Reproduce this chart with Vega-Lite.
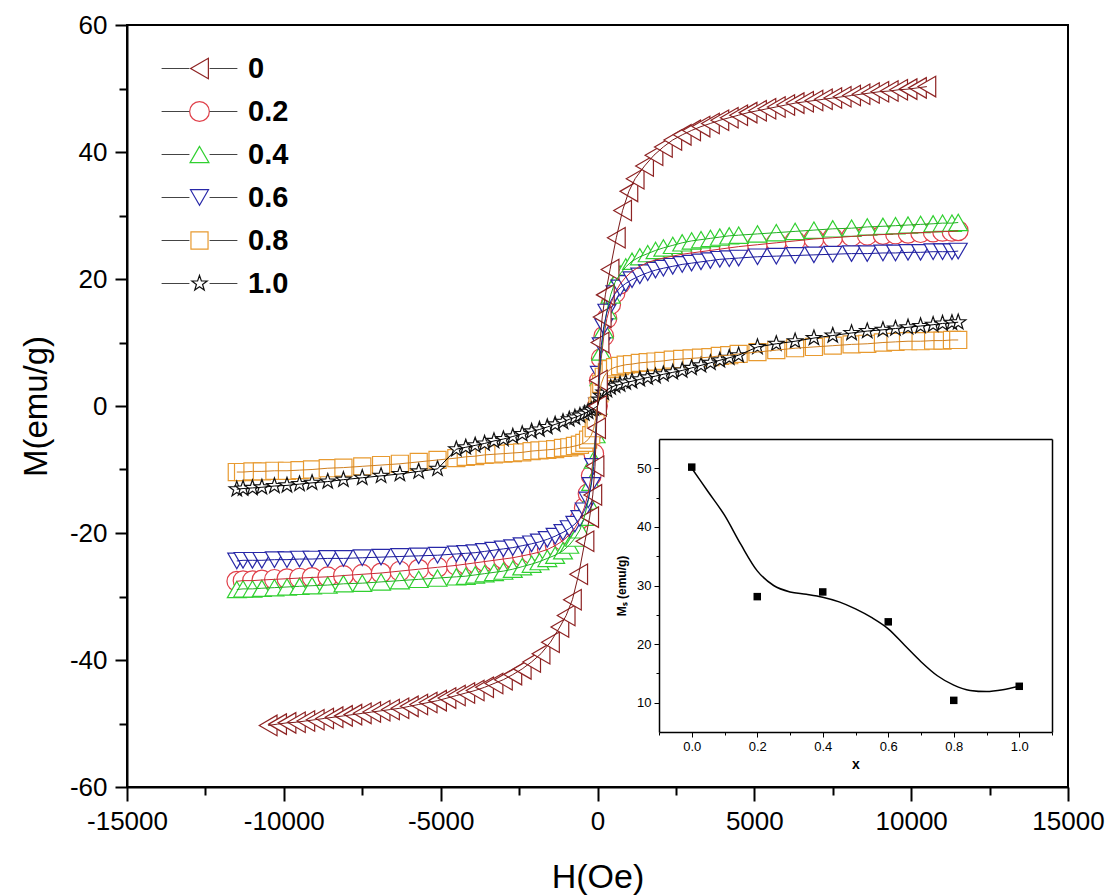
{
"$schema":"https://vega.github.io/schema/vega-lite/v6.json",
"width":941,"height":762,
"autosize":{"type":"none"},
"padding":{"left":127,"top":25,"right":44,"bottom":109},
"background":"white",
"config":{
 "font":"Liberation Sans",
 "view":{"stroke":"black","strokeWidth":2},
 "locale":{"number":{"decimal":".","thousands":"","grouping":[3],"currency":["",""],"minus":"-"}},
 "axis":{"domainColor":"black","tickColor":"black","labelColor":"black","titleColor":"black","grid":false,"labelFont":"Liberation Sans","titleFont":"Liberation Sans","titleFontWeight":"normal","labelFlush":false,"labelOverlap":false}
},
"datasets":{
"loops":[
{"s":"0.2","h":-11500,"m":-27.6},{"s":"0.2","h":-11300,"m":-27.5},{"s":"0.2","h":-11000,"m":-27.5},{"s":"0.2","h":-10700,"m":-27.4},{"s":"0.2","h":-10300,"m":-27.3},{"s":"0.2","h":-9900,"m":-27.2},{"s":"0.2","h":-9500,"m":-27.1},{"s":"0.2","h":-9100,"m":-27.0},{"s":"0.2","h":-8600,"m":-26.9},{"s":"0.2","h":-8100,"m":-26.7},{"s":"0.2","h":-7500,"m":-26.5},{"s":"0.2","h":-6900,"m":-26.3},{"s":"0.2","h":-6300,"m":-26.0},{"s":"0.2","h":-5700,"m":-25.7},{"s":"0.2","h":-5100,"m":-25.4},{"s":"0.2","h":-4500,"m":-25.1},{"s":"0.2","h":-4200,"m":-24.9},{"s":"0.2","h":-3900,"m":-24.7},{"s":"0.2","h":-3600,"m":-24.5},{"s":"0.2","h":-3300,"m":-24.3},{"s":"0.2","h":-3000,"m":-24.1},{"s":"0.2","h":-2700,"m":-23.9},{"s":"0.2","h":-2400,"m":-23.6},{"s":"0.2","h":-2100,"m":-23.3},{"s":"0.2","h":-1850,"m":-23.0},{"s":"0.2","h":-1600,"m":-22.6},{"s":"0.2","h":-1350,"m":-22.0},{"s":"0.2","h":-1100,"m":-21.2},{"s":"0.2","h":-900,"m":-20.3},{"s":"0.2","h":-720,"m":-19.2},{"s":"0.2","h":-560,"m":-17.8},{"s":"0.2","h":-420,"m":-16.0},{"s":"0.2","h":-300,"m":-13.8},{"s":"0.2","h":-200,"m":-11.0},{"s":"0.2","h":-120,"m":-7.5},{"s":"0.2","h":-60,"m":-4.0},{"s":"0.2","h":0,"m":0},{"s":"0.2","h":60,"m":4.0},{"s":"0.2","h":120,"m":7.5},{"s":"0.2","h":200,"m":11.0},{"s":"0.2","h":300,"m":13.8},{"s":"0.2","h":420,"m":16.0},{"s":"0.2","h":560,"m":17.8},{"s":"0.2","h":720,"m":19.2},{"s":"0.2","h":900,"m":20.3},{"s":"0.2","h":1100,"m":21.2},{"s":"0.2","h":1350,"m":22.0},{"s":"0.2","h":1600,"m":22.6},{"s":"0.2","h":1850,"m":23.0},{"s":"0.2","h":2100,"m":23.3},{"s":"0.2","h":2400,"m":23.6},{"s":"0.2","h":2700,"m":23.9},{"s":"0.2","h":3000,"m":24.1},{"s":"0.2","h":3300,"m":24.3},{"s":"0.2","h":3600,"m":24.5},{"s":"0.2","h":3900,"m":24.7},{"s":"0.2","h":4200,"m":24.9},{"s":"0.2","h":4500,"m":25.1},{"s":"0.2","h":5100,"m":25.4},{"s":"0.2","h":5700,"m":25.7},{"s":"0.2","h":6300,"m":26.0},{"s":"0.2","h":6900,"m":26.3},{"s":"0.2","h":7500,"m":26.5},{"s":"0.2","h":8100,"m":26.7},{"s":"0.2","h":8600,"m":26.9},{"s":"0.2","h":9100,"m":27.0},{"s":"0.2","h":9500,"m":27.1},{"s":"0.2","h":9900,"m":27.2},{"s":"0.2","h":10300,"m":27.3},{"s":"0.2","h":10700,"m":27.4},{"s":"0.2","h":11000,"m":27.5},{"s":"0.2","h":11300,"m":27.5},{"s":"0.2","h":11500,"m":27.6},
{"s":"0.4","h":-11500,"m":-28.9},{"s":"0.4","h":-11300,"m":-28.8},{"s":"0.4","h":-11000,"m":-28.8},{"s":"0.4","h":-10700,"m":-28.7},{"s":"0.4","h":-10300,"m":-28.6},{"s":"0.4","h":-9900,"m":-28.5},{"s":"0.4","h":-9500,"m":-28.4},{"s":"0.4","h":-9100,"m":-28.3},{"s":"0.4","h":-8600,"m":-28.2},{"s":"0.4","h":-8100,"m":-28.0},{"s":"0.4","h":-7500,"m":-27.9},{"s":"0.4","h":-6900,"m":-27.7},{"s":"0.4","h":-6300,"m":-27.5},{"s":"0.4","h":-5700,"m":-27.3},{"s":"0.4","h":-5100,"m":-27.1},{"s":"0.4","h":-4500,"m":-26.9},{"s":"0.4","h":-4200,"m":-26.8},{"s":"0.4","h":-3900,"m":-26.6},{"s":"0.4","h":-3600,"m":-26.4},{"s":"0.4","h":-3300,"m":-26.2},{"s":"0.4","h":-3000,"m":-26.0},{"s":"0.4","h":-2700,"m":-25.7},{"s":"0.4","h":-2400,"m":-25.3},{"s":"0.4","h":-2100,"m":-24.9},{"s":"0.4","h":-1850,"m":-24.5},{"s":"0.4","h":-1600,"m":-24.0},{"s":"0.4","h":-1350,"m":-23.5},{"s":"0.4","h":-1100,"m":-22.8},{"s":"0.4","h":-900,"m":-21.9},{"s":"0.4","h":-720,"m":-20.8},{"s":"0.4","h":-560,"m":-19.5},{"s":"0.4","h":-420,"m":-17.5},{"s":"0.4","h":-300,"m":-15.0},{"s":"0.4","h":-200,"m":-12.0},{"s":"0.4","h":-120,"m":-8.5},{"s":"0.4","h":-60,"m":-4.5},{"s":"0.4","h":0,"m":0},{"s":"0.4","h":60,"m":4.5},{"s":"0.4","h":120,"m":8.5},{"s":"0.4","h":200,"m":12.0},{"s":"0.4","h":300,"m":15.0},{"s":"0.4","h":420,"m":17.5},{"s":"0.4","h":560,"m":19.5},{"s":"0.4","h":720,"m":20.8},{"s":"0.4","h":900,"m":21.9},{"s":"0.4","h":1100,"m":22.8},{"s":"0.4","h":1350,"m":23.5},{"s":"0.4","h":1600,"m":24.0},{"s":"0.4","h":1850,"m":24.5},{"s":"0.4","h":2100,"m":24.9},{"s":"0.4","h":2400,"m":25.3},{"s":"0.4","h":2700,"m":25.7},{"s":"0.4","h":3000,"m":26.0},{"s":"0.4","h":3300,"m":26.2},{"s":"0.4","h":3600,"m":26.4},{"s":"0.4","h":3900,"m":26.6},{"s":"0.4","h":4200,"m":26.8},{"s":"0.4","h":4500,"m":26.9},{"s":"0.4","h":5100,"m":27.1},{"s":"0.4","h":5700,"m":27.3},{"s":"0.4","h":6300,"m":27.5},{"s":"0.4","h":6900,"m":27.7},{"s":"0.4","h":7500,"m":27.9},{"s":"0.4","h":8100,"m":28.0},{"s":"0.4","h":8600,"m":28.2},{"s":"0.4","h":9100,"m":28.3},{"s":"0.4","h":9500,"m":28.4},{"s":"0.4","h":9900,"m":28.5},{"s":"0.4","h":10300,"m":28.6},{"s":"0.4","h":10700,"m":28.7},{"s":"0.4","h":11000,"m":28.8},{"s":"0.4","h":11300,"m":28.8},{"s":"0.4","h":11500,"m":28.9},
{"s":"0.6","h":-11500,"m":-24.4},{"s":"0.6","h":-11300,"m":-24.3},{"s":"0.6","h":-11000,"m":-24.3},{"s":"0.6","h":-10700,"m":-24.3},{"s":"0.6","h":-10300,"m":-24.2},{"s":"0.6","h":-9900,"m":-24.2},{"s":"0.6","h":-9500,"m":-24.1},{"s":"0.6","h":-9100,"m":-24.1},{"s":"0.6","h":-8600,"m":-24.0},{"s":"0.6","h":-8100,"m":-24.0},{"s":"0.6","h":-7500,"m":-23.9},{"s":"0.6","h":-6900,"m":-23.8},{"s":"0.6","h":-6300,"m":-23.7},{"s":"0.6","h":-5700,"m":-23.6},{"s":"0.6","h":-5100,"m":-23.5},{"s":"0.6","h":-4500,"m":-23.3},{"s":"0.6","h":-4200,"m":-23.2},{"s":"0.6","h":-3900,"m":-23.1},{"s":"0.6","h":-3600,"m":-22.9},{"s":"0.6","h":-3300,"m":-22.7},{"s":"0.6","h":-3000,"m":-22.5},{"s":"0.6","h":-2700,"m":-22.3},{"s":"0.6","h":-2400,"m":-22.0},{"s":"0.6","h":-2100,"m":-21.7},{"s":"0.6","h":-1850,"m":-21.4},{"s":"0.6","h":-1600,"m":-21.0},{"s":"0.6","h":-1350,"m":-20.5},{"s":"0.6","h":-1100,"m":-19.9},{"s":"0.6","h":-900,"m":-19.3},{"s":"0.6","h":-720,"m":-18.6},{"s":"0.6","h":-560,"m":-17.7},{"s":"0.6","h":-420,"m":-16.5},{"s":"0.6","h":-300,"m":-14.8},{"s":"0.6","h":-200,"m":-12.5},{"s":"0.6","h":-120,"m":-9.5},{"s":"0.6","h":-60,"m":-5.0},{"s":"0.6","h":0,"m":0},{"s":"0.6","h":60,"m":5.0},{"s":"0.6","h":120,"m":9.5},{"s":"0.6","h":200,"m":12.5},{"s":"0.6","h":300,"m":14.8},{"s":"0.6","h":420,"m":16.5},{"s":"0.6","h":560,"m":17.7},{"s":"0.6","h":720,"m":18.6},{"s":"0.6","h":900,"m":19.3},{"s":"0.6","h":1100,"m":19.9},{"s":"0.6","h":1350,"m":20.5},{"s":"0.6","h":1600,"m":21.0},{"s":"0.6","h":1850,"m":21.4},{"s":"0.6","h":2100,"m":21.7},{"s":"0.6","h":2400,"m":22.0},{"s":"0.6","h":2700,"m":22.3},{"s":"0.6","h":3000,"m":22.5},{"s":"0.6","h":3300,"m":22.7},{"s":"0.6","h":3600,"m":22.9},{"s":"0.6","h":3900,"m":23.1},{"s":"0.6","h":4200,"m":23.2},{"s":"0.6","h":4500,"m":23.3},{"s":"0.6","h":5100,"m":23.5},{"s":"0.6","h":5700,"m":23.6},{"s":"0.6","h":6300,"m":23.7},{"s":"0.6","h":6900,"m":23.8},{"s":"0.6","h":7500,"m":23.9},{"s":"0.6","h":8100,"m":24.0},{"s":"0.6","h":8600,"m":24.0},{"s":"0.6","h":9100,"m":24.1},{"s":"0.6","h":9500,"m":24.1},{"s":"0.6","h":9900,"m":24.2},{"s":"0.6","h":10300,"m":24.2},{"s":"0.6","h":10700,"m":24.3},{"s":"0.6","h":11000,"m":24.3},{"s":"0.6","h":11300,"m":24.3},{"s":"0.6","h":11500,"m":24.4},
{"s":"0.8","h":-11500,"m":-10.4},{"s":"0.8","h":-11300,"m":-10.4},{"s":"0.8","h":-11000,"m":-10.3},{"s":"0.8","h":-10700,"m":-10.3},{"s":"0.8","h":-10300,"m":-10.2},{"s":"0.8","h":-9900,"m":-10.2},{"s":"0.8","h":-9500,"m":-10.1},{"s":"0.8","h":-9100,"m":-10.0},{"s":"0.8","h":-8600,"m":-9.8},{"s":"0.8","h":-8100,"m":-9.7},{"s":"0.8","h":-7500,"m":-9.5},{"s":"0.8","h":-6900,"m":-9.3},{"s":"0.8","h":-6300,"m":-9.1},{"s":"0.8","h":-5700,"m":-8.8},{"s":"0.8","h":-5100,"m":-8.5},{"s":"0.8","h":-4500,"m":-8.2},{"s":"0.8","h":-4200,"m":-8.0},{"s":"0.8","h":-3900,"m":-7.9},{"s":"0.8","h":-3600,"m":-7.7},{"s":"0.8","h":-3300,"m":-7.6},{"s":"0.8","h":-3000,"m":-7.5},{"s":"0.8","h":-2700,"m":-7.4},{"s":"0.8","h":-2400,"m":-7.3},{"s":"0.8","h":-2100,"m":-7.1},{"s":"0.8","h":-1850,"m":-7.0},{"s":"0.8","h":-1600,"m":-6.9},{"s":"0.8","h":-1350,"m":-6.8},{"s":"0.8","h":-1100,"m":-6.6},{"s":"0.8","h":-900,"m":-6.5},{"s":"0.8","h":-720,"m":-6.3},{"s":"0.8","h":-560,"m":-6.1},{"s":"0.8","h":-420,"m":-5.8},{"s":"0.8","h":-300,"m":-5.3},{"s":"0.8","h":-200,"m":-4.6},{"s":"0.8","h":-120,"m":-3.5},{"s":"0.8","h":-60,"m":-2.0},{"s":"0.8","h":0,"m":0},{"s":"0.8","h":60,"m":2.0},{"s":"0.8","h":120,"m":3.5},{"s":"0.8","h":200,"m":4.6},{"s":"0.8","h":300,"m":5.3},{"s":"0.8","h":420,"m":5.8},{"s":"0.8","h":560,"m":6.1},{"s":"0.8","h":720,"m":6.3},{"s":"0.8","h":900,"m":6.5},{"s":"0.8","h":1100,"m":6.6},{"s":"0.8","h":1350,"m":6.8},{"s":"0.8","h":1600,"m":6.9},{"s":"0.8","h":1850,"m":7.0},{"s":"0.8","h":2100,"m":7.1},{"s":"0.8","h":2400,"m":7.3},{"s":"0.8","h":2700,"m":7.4},{"s":"0.8","h":3000,"m":7.5},{"s":"0.8","h":3300,"m":7.6},{"s":"0.8","h":3600,"m":7.7},{"s":"0.8","h":3900,"m":7.9},{"s":"0.8","h":4200,"m":8.0},{"s":"0.8","h":4500,"m":8.2},{"s":"0.8","h":5100,"m":8.5},{"s":"0.8","h":5700,"m":8.8},{"s":"0.8","h":6300,"m":9.1},{"s":"0.8","h":6900,"m":9.3},{"s":"0.8","h":7500,"m":9.5},{"s":"0.8","h":8100,"m":9.7},{"s":"0.8","h":8600,"m":9.8},{"s":"0.8","h":9100,"m":10.0},{"s":"0.8","h":9500,"m":10.1},{"s":"0.8","h":9900,"m":10.2},{"s":"0.8","h":10300,"m":10.2},{"s":"0.8","h":10700,"m":10.3},{"s":"0.8","h":11000,"m":10.3},{"s":"0.8","h":11300,"m":10.4},{"s":"0.8","h":11500,"m":10.4},
{"s":"1.0","h":-11500,"m":-13.1},{"s":"1.0","h":-11300,"m":-13.0},{"s":"1.0","h":-11000,"m":-12.9},{"s":"1.0","h":-10700,"m":-12.8},{"s":"1.0","h":-10300,"m":-12.6},{"s":"1.0","h":-9900,"m":-12.5},{"s":"1.0","h":-9500,"m":-12.3},{"s":"1.0","h":-9100,"m":-12.1},{"s":"1.0","h":-8600,"m":-11.9},{"s":"1.0","h":-8100,"m":-11.6},{"s":"1.0","h":-7500,"m":-11.3},{"s":"1.0","h":-6900,"m":-11.0},{"s":"1.0","h":-6300,"m":-10.7},{"s":"1.0","h":-5700,"m":-10.3},{"s":"1.0","h":-5100,"m":-9.9},{"s":"1.0","h":-4500,"m":-6.8},{"s":"1.0","h":-4200,"m":-6.5},{"s":"1.0","h":-3900,"m":-6.2},{"s":"1.0","h":-3600,"m":-5.9},{"s":"1.0","h":-3300,"m":-5.5},{"s":"1.0","h":-3000,"m":-5.2},{"s":"1.0","h":-2700,"m":-4.8},{"s":"1.0","h":-2400,"m":-4.4},{"s":"1.0","h":-2100,"m":-4.0},{"s":"1.0","h":-1850,"m":-3.7},{"s":"1.0","h":-1600,"m":-3.3},{"s":"1.0","h":-1350,"m":-2.9},{"s":"1.0","h":-1100,"m":-2.5},{"s":"1.0","h":-900,"m":-2.1},{"s":"1.0","h":-720,"m":-1.8},{"s":"1.0","h":-560,"m":-1.5},{"s":"1.0","h":-420,"m":-1.2},{"s":"1.0","h":-300,"m":-0.9},{"s":"1.0","h":-200,"m":-0.6},{"s":"1.0","h":-120,"m":-0.4},{"s":"1.0","h":-60,"m":-0.2},{"s":"1.0","h":0,"m":0},{"s":"1.0","h":60,"m":1.0},{"s":"1.0","h":120,"m":1.6},{"s":"1.0","h":200,"m":2.1},{"s":"1.0","h":300,"m":2.5},{"s":"1.0","h":420,"m":2.9},{"s":"1.0","h":560,"m":3.2},{"s":"1.0","h":720,"m":3.4},{"s":"1.0","h":900,"m":3.7},{"s":"1.0","h":1100,"m":3.9},{"s":"1.0","h":1350,"m":4.2},{"s":"1.0","h":1600,"m":4.5},{"s":"1.0","h":1850,"m":4.7},{"s":"1.0","h":2100,"m":5.0},{"s":"1.0","h":2400,"m":5.3},{"s":"1.0","h":2700,"m":5.6},{"s":"1.0","h":3000,"m":6.0},{"s":"1.0","h":3300,"m":6.4},{"s":"1.0","h":3600,"m":6.8},{"s":"1.0","h":3900,"m":7.2},{"s":"1.0","h":4200,"m":7.6},{"s":"1.0","h":4500,"m":8.0},{"s":"1.0","h":5100,"m":9.3},{"s":"1.0","h":5700,"m":9.8},{"s":"1.0","h":6300,"m":10.2},{"s":"1.0","h":6900,"m":10.7},{"s":"1.0","h":7500,"m":11.1},{"s":"1.0","h":8100,"m":11.5},{"s":"1.0","h":8600,"m":11.8},{"s":"1.0","h":9100,"m":12.0},{"s":"1.0","h":9500,"m":12.2},{"s":"1.0","h":9900,"m":12.4},{"s":"1.0","h":10300,"m":12.6},{"s":"1.0","h":10700,"m":12.8},{"s":"1.0","h":11000,"m":13.0},{"s":"1.0","h":11300,"m":13.1},{"s":"1.0","h":11500,"m":13.2},
{"s":"0","h":-10500,"m":-50.3},{"s":"0","h":-10200,"m":-50.1},{"s":"0","h":-9900,"m":-49.9},{"s":"0","h":-9600,"m":-49.8},{"s":"0","h":-9300,"m":-49.6},{"s":"0","h":-9000,"m":-49.4},{"s":"0","h":-8700,"m":-49.2},{"s":"0","h":-8400,"m":-49.0},{"s":"0","h":-8100,"m":-48.8},{"s":"0","h":-7800,"m":-48.6},{"s":"0","h":-7500,"m":-48.4},{"s":"0","h":-7200,"m":-48.2},{"s":"0","h":-6900,"m":-48.0},{"s":"0","h":-6600,"m":-47.8},{"s":"0","h":-6300,"m":-47.6},{"s":"0","h":-6000,"m":-47.3},{"s":"0","h":-5700,"m":-47.0},{"s":"0","h":-5400,"m":-46.7},{"s":"0","h":-5100,"m":-46.4},{"s":"0","h":-4800,"m":-46.0},{"s":"0","h":-4500,"m":-45.6},{"s":"0","h":-4200,"m":-45.2},{"s":"0","h":-3900,"m":-44.8},{"s":"0","h":-3600,"m":-44.3},{"s":"0","h":-3300,"m":-43.7},{"s":"0","h":-3000,"m":-43.1},{"s":"0","h":-2700,"m":-42.3},{"s":"0","h":-2400,"m":-41.4},{"s":"0","h":-2100,"m":-40.3},{"s":"0","h":-1800,"m":-39.0},{"s":"0","h":-1500,"m":-37.2},{"s":"0","h":-1200,"m":-34.8},{"s":"0","h":-1000,"m":-33.0},{"s":"0","h":-800,"m":-30.5},{"s":"0","h":-600,"m":-26.5},{"s":"0","h":-400,"m":-21.3},{"s":"0","h":-250,"m":-17.5},{"s":"0","h":-150,"m":-14.0},{"s":"0","h":-80,"m":-9.5},{"s":"0","h":-30,"m":-3.5},{"s":"0","h":0,"m":0},{"s":"0","h":30,"m":4.0},{"s":"0","h":80,"m":10.0},{"s":"0","h":150,"m":14.0},{"s":"0","h":250,"m":17.5},{"s":"0","h":400,"m":21.5},{"s":"0","h":600,"m":26.5},{"s":"0","h":800,"m":30.8},{"s":"0","h":1000,"m":33.8},{"s":"0","h":1200,"m":35.8},{"s":"0","h":1500,"m":37.8},{"s":"0","h":1800,"m":39.5},{"s":"0","h":2100,"m":40.8},{"s":"0","h":2400,"m":41.9},{"s":"0","h":2700,"m":42.7},{"s":"0","h":3000,"m":43.4},{"s":"0","h":3300,"m":44.0},{"s":"0","h":3600,"m":44.5},{"s":"0","h":3900,"m":45.0},{"s":"0","h":4200,"m":45.4},{"s":"0","h":4500,"m":45.8},{"s":"0","h":4800,"m":46.2},{"s":"0","h":5100,"m":46.5},{"s":"0","h":5400,"m":46.8},{"s":"0","h":5700,"m":47.1},{"s":"0","h":6000,"m":47.4},{"s":"0","h":6300,"m":47.7},{"s":"0","h":6600,"m":47.9},{"s":"0","h":6900,"m":48.1},{"s":"0","h":7200,"m":48.3},{"s":"0","h":7500,"m":48.5},{"s":"0","h":7800,"m":48.7},{"s":"0","h":8100,"m":48.9},{"s":"0","h":8400,"m":49.1},{"s":"0","h":8700,"m":49.3},{"s":"0","h":9000,"m":49.5},{"s":"0","h":9300,"m":49.6},{"s":"0","h":9600,"m":49.8},{"s":"0","h":9900,"m":49.9},{"s":"0","h":10200,"m":50.1},{"s":"0","h":10500,"m":50.3}
],
"ms":[{"x":0,"ms":50.2},{"x":0.2,"ms":28.1},{"x":0.4,"ms":28.9},{"x":0.6,"ms":23.8},{"x":0.8,"ms":10.4},{"x":1.0,"ms":12.8}],
"fit":[{"x":0,"ms":50.0},{"x":0.05,"ms":46.0},{"x":0.1,"ms":42.0},{"x":0.15,"ms":37.0},{"x":0.2,"ms":32.5},{"x":0.25,"ms":30.0},{"x":0.3,"ms":28.9},{"x":0.35,"ms":28.5},{"x":0.4,"ms":28.0},{"x":0.45,"ms":27.2},{"x":0.5,"ms":26.0},{"x":0.55,"ms":24.5},{"x":0.6,"ms":22.6},{"x":0.65,"ms":19.8},{"x":0.7,"ms":17.0},{"x":0.75,"ms":14.6},{"x":0.8,"ms":13.0},{"x":0.85,"ms":12.1},{"x":0.9,"ms":11.9},{"x":0.95,"ms":12.2},{"x":1.0,"ms":12.8}]
},
"layer":[
 {
  "data":{"name":"loops"},
  "layer":[
   {
    "mark":{"type":"point","filled":false,"fill":"white","fillOpacity":1,"strokeWidth":1.2,"opacity":1},
    "encoding":{
     "x":{"field":"h","type":"quantitative","scale":{"domain":[-15000,15000],"nice":false,"zero":false},
      "axis":{"orient":"bottom","values":[-15000,-12500,-10000,-7500,-5000,-2500,0,2500,5000,7500,10000,12500,15000],"format":"d","labelExpr":"datum.value % 5000 == 0 ? datum.label : ''","title":"H(Oe)","titleFontSize":34,"labelFontSize":26,"tickSize":{"condition":{"test":"datum.value % 5000 == 0","value":14},"value":8},"tickWidth":2,"domainWidth":2,"labelPadding":7,"titlePadding":26}},
     "y":{"field":"m","type":"quantitative","scale":{"domain":[-60,60],"nice":false,"zero":false},
      "axis":{"orient":"left","values":[-60,-50,-40,-30,-20,-10,0,10,20,30,40,50,60],"format":"d","labelExpr":"datum.value % 20 == 0 ? datum.label : ''","title":"M(emu/g)","titleFontSize":33,"labelFontSize":26,"tickSize":{"condition":{"test":"datum.value % 20 == 0","value":12},"value":8},"tickWidth":2,"domainWidth":2,"labelPadding":8,"titlePadding":16}},
     "color":{"field":"s","type":"nominal","scale":{"domain":["0","0.2","0.4","0.6","0.8","1.0"],"range":["#8e2323","#e0404a","#30d030","#2828a8","#e89a30","#111111"]},
      "legend":{"orient":"none","legendX":58,"legendY":29,"title":null,"symbolSize":260,"symbolStrokeWidth":1.2,"symbolFillColor":"white","labelFontSize":29,"labelFontWeight":"bold","labelFont":"Liberation Sans","labelColor":"black","labelOffset":34,"rowPadding":13,"padding":0}},
     "shape":{"field":"s","type":"nominal","scale":{"domain":["0","0.2","0.4","0.6","0.8","1.0"],"range":["triangle-left","circle","triangle-up","triangle-down","square","M0,-1L0.235,-0.324L0.951,-0.309L0.38,0.124L0.588,0.809L0,0.4L-0.588,0.809L-0.38,0.124L-0.951,-0.309L-0.235,-0.324Z"]},
      "legend":{"orient":"none","legendX":58,"legendY":29,"title":null,"symbolSize":260,"symbolStrokeWidth":1.2,"symbolFillColor":"white","labelFontSize":29,"labelFontWeight":"bold","labelFont":"Liberation Sans","labelColor":"black","labelOffset":34,"rowPadding":13,"padding":0}},
     "size":{"field":"s","type":"nominal","scale":{"domain":["0","0.2","0.4","0.6","0.8","1.0"],"range":[420,260,460,420,290,190]},"legend":null}
    }
   },
   {
    "mark":{"type":"line","strokeWidth":1},
    "encoding":{
     "x":{"field":"h","type":"quantitative"},
     "y":{"field":"m","type":"quantitative"},
     "stroke":{"field":"s","type":"nominal","scale":{"domain":["0","0.2","0.4","0.6","0.8","1.0"],"range":["#7a1a1a","#c82a35","#22b022","#1a1a9a","#d08020","#000000"]},"legend":null}
    }
   }
  ]
 },
 {
  "layer":[
   {
    "data":{"name":"fit"},
    "mark":{"type":"line","interpolate":"monotone","color":"black","strokeWidth":1.5},
    "encoding":{
     "x":{"field":"x","type":"quantitative","scale":{"domain":[-0.1,1.1],"range":[532,925],"nice":false,"zero":false},
      "axis":{"orient":"bottom","offset":-55,"values":[-0.1,0,0.1,0.2,0.3,0.4,0.5,0.6,0.7,0.8,0.9,1.0,1.1],"format":".1f","labelExpr":"round(datum.value*10) % 2 == 0 ? datum.label : ''","title":"x","titleFontSize":14,"titleFontWeight":"bold","labelFontSize":13,"tickSize":{"condition":{"test":"round(datum.value*10) % 2 == 0","value":5},"value":3},"tickWidth":1,"domainWidth":1.5,"labelPadding":3,"titlePadding":4}},
     "y":{"field":"ms","type":"quantitative","scale":{"domain":[5,55],"range":[707,414],"nice":false,"zero":false},
      "axis":{"orient":"left","offset":-532,"values":[10,15,20,25,30,35,40,45,50],"format":"d","labelExpr":"datum.value % 10 == 0 ? datum.label : ''","title":"Mₛ (emu/g)","titleFontSize":12,"titleFontWeight":"bold","labelFontSize":13,"tickSize":{"condition":{"test":"datum.value % 10 == 0","value":5},"value":3},"tickWidth":1,"domainWidth":1.5,"labelPadding":3,"titlePadding":8}}
    }
   },
   {
    "data":{"name":"ms"},
    "mark":{"type":"square","color":"black","size":56,"opacity":1},
    "encoding":{
     "x":{"field":"x","type":"quantitative","scale":{"domain":[-0.1,1.1],"range":[532,925],"nice":false,"zero":false},
      "axis":{"orient":"top","offset":-414,"labels":false,"ticks":false,"title":null,"domainWidth":1.5}},
     "y":{"field":"ms","type":"quantitative","scale":{"domain":[5,55],"range":[707,414],"nice":false,"zero":false},
      "axis":{"orient":"right","offset":-16,"labels":false,"ticks":false,"title":null,"domainWidth":1.5}}
    }
   }
  ],
  "resolve":{"axis":{"x":"independent","y":"independent"}}
 },
 {
  "data":{"values":[]},
  "mark":{"type":"point","filled":false,"color":"#444444","strokeWidth":1,"shape":"M-4.7,0H-1.25M1.25,0H4.7"},
  "encoding":{
   "opacity":{"field":"t","type":"nominal","scale":{"domain":["L1","L2","L3","L4","L5","L6"],"range":[1,1,1,1,1,1]},
    "legend":{"orient":"none","legendX":58,"legendY":29,"title":null,"symbolType":"M-4.7,0H-1.25M1.25,0H4.7","symbolSize":260,"symbolStrokeWidth":1,"symbolStrokeColor":"#444444","labelFontSize":29,"labelFontWeight":"bold","labelFont":"Liberation Sans","labelExpr":"''","labelOffset":34,"rowPadding":13,"padding":0}}
  }
 }
],
"resolve":{"scale":{"x":"independent","y":"independent"}}
}
